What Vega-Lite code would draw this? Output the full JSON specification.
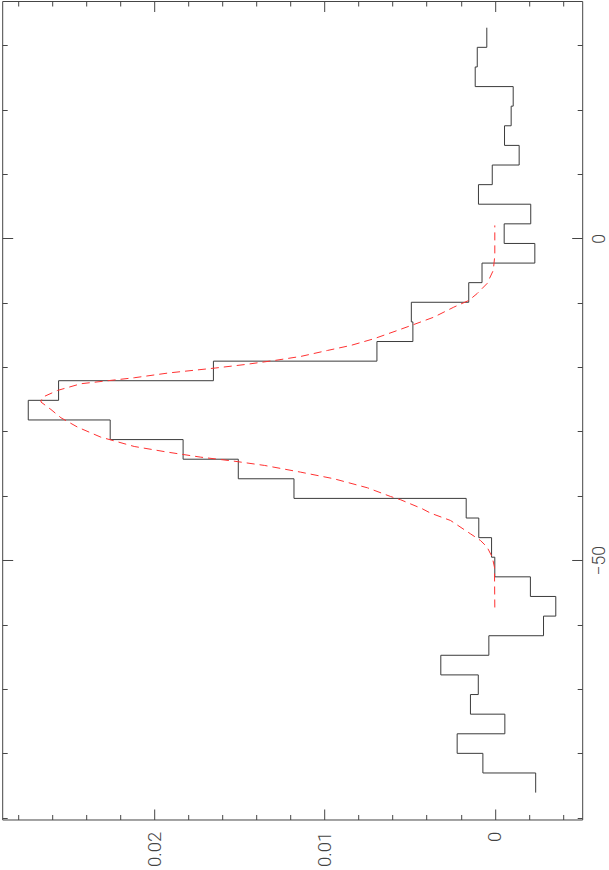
{
  "$schema": "https://vega.github.io/schema/vega-lite/v6.json",
  "width": 580,
  "height": 818.5,
  "padding": {"left": 1.2, "top": 0, "right": 0, "bottom": 0},
  "background": "white",
  "config": {
    "view": {"stroke": "#444", "strokeWidth": 1},
    "axis": {
      "domain": false,
      "grid": false,
      "title": null,
      "tickColor": "#444",
      "tickWidth": 1,
      "labelFont": "Roboto",
      "labelFontWeight": 300,
      "labelFontSize": 18.5,
      "labelColor": "#444"
    }
  },
  "datasets": {
    "hist": [
      {"k": 0, "hi": 32.75, "lo": 29.70, "f": 0.00047},
      {"k": 1, "hi": 29.70, "lo": 26.65, "f": 0.00103},
      {"k": 2, "hi": 26.65, "lo": 23.60, "f": 0.00115},
      {"k": 3, "hi": 23.60, "lo": 20.56, "f": -0.00108},
      {"k": 4, "hi": 20.56, "lo": 17.51, "f": -0.00096},
      {"k": 5, "hi": 17.51, "lo": 14.46, "f": -0.00057},
      {"k": 6, "hi": 14.46, "lo": 11.41, "f": -0.00143},
      {"k": 7, "hi": 11.41, "lo": 8.36, "f": 0.00015},
      {"k": 8, "hi": 8.36, "lo": 5.32, "f": 0.00096},
      {"k": 9, "hi": 5.32, "lo": 2.27, "f": -0.00211},
      {"k": 10, "hi": 2.27, "lo": -0.78, "f": -0.00055},
      {"k": 11, "hi": -0.78, "lo": -3.83, "f": -0.00235},
      {"k": 12, "hi": -3.83, "lo": -6.87, "f": 0.00075},
      {"k": 13, "hi": -6.87, "lo": -9.92, "f": 0.00153},
      {"k": 14, "hi": -9.92, "lo": -12.97, "f": 0.00490},
      {"k": 15, "hi": -12.97, "lo": -16.02, "f": 0.00481},
      {"k": 16, "hi": -16.02, "lo": -19.07, "f": 0.00692},
      {"k": 17, "hi": -19.07, "lo": -22.11, "f": 0.01652},
      {"k": 18, "hi": -22.11, "lo": -25.16, "f": 0.02561},
      {"k": 19, "hi": -25.16, "lo": -28.21, "f": 0.02739},
      {"k": 20, "hi": -28.21, "lo": -31.26, "f": 0.02258},
      {"k": 21, "hi": -31.26, "lo": -34.31, "f": 0.01830},
      {"k": 22, "hi": -34.31, "lo": -37.35, "f": 0.01506},
      {"k": 23, "hi": -37.35, "lo": -40.40, "f": 0.01179},
      {"k": 24, "hi": -40.40, "lo": -43.45, "f": 0.00168},
      {"k": 25, "hi": -43.45, "lo": -46.50, "f": 0.00094},
      {"k": 26, "hi": -46.50, "lo": -49.54, "f": 0.00019},
      {"k": 27, "hi": -49.54, "lo": -52.59, "f": 0.00000},
      {"k": 28, "hi": -52.59, "lo": -55.64, "f": -0.00209},
      {"k": 29, "hi": -55.64, "lo": -58.69, "f": -0.00358},
      {"k": 30, "hi": -58.69, "lo": -61.74, "f": -0.00286},
      {"k": 31, "hi": -61.74, "lo": -64.78, "f": 0.00035},
      {"k": 32, "hi": -64.78, "lo": -67.83, "f": 0.00317},
      {"k": 33, "hi": -67.83, "lo": -70.88, "f": 0.00097},
      {"k": 34, "hi": -70.88, "lo": -73.93, "f": 0.00143},
      {"k": 35, "hi": -73.93, "lo": -76.98, "f": -0.00059},
      {"k": 36, "hi": -76.98, "lo": -80.02, "f": 0.00221},
      {"k": 37, "hi": -80.02, "lo": -83.07, "f": 0.00070},
      {"k": 38, "hi": -83.07, "lo": -86.12, "f": -0.00240}
    ],
    "fit": [
      {"v": 2.02, "f": 0.0},
      {"v": -2.64, "f": 0.0},
      {"v": -4.97, "f": 0.00009},
      {"v": -6.99, "f": 0.00045},
      {"v": -8.55, "f": 0.00103},
      {"v": -9.64, "f": 0.00153},
      {"v": -10.68, "f": 0.00241},
      {"v": -12.23, "f": 0.00358},
      {"v": -13.37, "f": 0.00475},
      {"v": -14.30, "f": 0.00572},
      {"v": -15.59, "f": 0.00710},
      {"v": -16.63, "f": 0.00846},
      {"v": -17.41, "f": 0.00983},
      {"v": -18.34, "f": 0.01140},
      {"v": -18.96, "f": 0.01292},
      {"v": -19.58, "f": 0.01462},
      {"v": -20.13, "f": 0.01638},
      {"v": -20.90, "f": 0.01914},
      {"v": -21.65, "f": 0.02117},
      {"v": -22.58, "f": 0.02430},
      {"v": -23.62, "f": 0.02567},
      {"v": -24.67, "f": 0.02655},
      {"v": -25.41, "f": 0.02665},
      {"v": -26.58, "f": 0.02606},
      {"v": -27.87, "f": 0.02547},
      {"v": -29.33, "f": 0.02449},
      {"v": -30.88, "f": 0.02313},
      {"v": -32.33, "f": 0.02117},
      {"v": -33.21, "f": 0.01921},
      {"v": -33.99, "f": 0.01726},
      {"v": -34.61, "f": 0.01531},
      {"v": -35.28, "f": 0.01351},
      {"v": -36.32, "f": 0.01140},
      {"v": -37.35, "f": 0.00944},
      {"v": -38.75, "f": 0.00748},
      {"v": -40.10, "f": 0.00612},
      {"v": -40.61, "f": 0.00553},
      {"v": -42.01, "f": 0.00426},
      {"v": -42.69, "f": 0.00377},
      {"v": -43.83, "f": 0.00260},
      {"v": -45.90, "f": 0.00143},
      {"v": -46.94, "f": 0.00084},
      {"v": -47.98, "f": 0.00045},
      {"v": -49.53, "f": 0.00015},
      {"v": -51.09, "f": 0.00002},
      {"v": -57.35, "f": 0.0}
    ]
  },
  "resolve": {"axis": {"x": "independent", "y": "independent"}},
  "layer": [
    {
      "data": {"name": "hist"},
      "transform": [
        {"fold": ["lo", "hi"], "as": ["edge", "v"]},
        {"window": [{"op": "row_number", "as": "idx"}],
         "sort": [{"field": "k", "order": "descending"}, {"field": "v", "order": "ascending"}]}
      ],
      "mark": {"type": "line", "stroke": "#3a3a3a", "strokeWidth": 1},
      "encoding": {
        "x": {"field": "f", "type": "quantitative",
              "scale": {"domain": [-0.00513, 0.02892], "reverse": true, "nice": false, "zero": false},
              "axis": {"orient": "bottom", "values": [0, 0.01, 0.02], "format": "~g", "tickSize": -10.5,
                       "labelAngle": 270, "labelAlign": "right", "labelBaseline": "middle", "labelPadding": 22.2}},
        "y": {"field": "v", "type": "quantitative",
              "scale": {"domain": [-90.3, 36.9], "nice": false, "zero": false},
              "axis": {"orient": "right", "values": [-50, 0], "format": "d", "tickSize": -10.5,
                       "labelFontSize": 17.5,
                       "labelAngle": 270, "labelAlign": "center", "labelBaseline": "top", "labelPadding": 19.3}},
        "order": {"field": "idx", "type": "quantitative"}
      }
    },
    {
      "data": {"name": "fit"},
      "mark": {"type": "line", "stroke": "#ff3030", "strokeWidth": 1, "strokeDash": [8, 5]},
      "encoding": {
        "x": {"field": "f", "type": "quantitative",
              "scale": {"domain": [-0.00513, 0.02892], "reverse": true, "nice": false, "zero": false},
              "axis": {"orient": "top", "values": [0, 0.01, 0.02], "labels": false, "tickSize": -10.5}},
        "y": {"field": "v", "type": "quantitative",
              "scale": {"domain": [-90.3, 36.9], "nice": false, "zero": false},
              "axis": {"orient": "left", "values": [-50, 0], "labels": false, "tickSize": -10.5}},
        "order": {"field": "v", "type": "quantitative"}
      }
    },
    {
      "data": {"name": "fit"},
      "mark": {"type": "point", "opacity": 0},
      "encoding": {
        "x": {"field": "f", "type": "quantitative",
              "scale": {"domain": [-0.00513, 0.02892], "reverse": true, "nice": false, "zero": false},
              "axis": {"orient": "bottom", "values": [-0.004, -0.002, 0.002, 0.004, 0.006, 0.008, 0.012, 0.014, 0.016, 0.018, 0.022, 0.024, 0.026, 0.028], "labels": false, "tickSize": -5}},
        "y": {"field": "v", "type": "quantitative",
              "scale": {"domain": [-90.3, 36.9], "nice": false, "zero": false},
              "axis": {"orient": "right", "values": [-90, -80, -70, -60, -40, -30, -20, -10, 10, 20, 30], "labels": false, "tickSize": -5}}
      }
    },
    {
      "data": {"name": "fit"},
      "mark": {"type": "point", "opacity": 0},
      "encoding": {
        "x": {"field": "f", "type": "quantitative",
              "scale": {"domain": [-0.00513, 0.02892], "reverse": true, "nice": false, "zero": false},
              "axis": {"orient": "top", "values": [-0.004, -0.002, 0.002, 0.004, 0.006, 0.008, 0.012, 0.014, 0.016, 0.018, 0.022, 0.024, 0.026, 0.028], "labels": false, "tickSize": -5}},
        "y": {"field": "v", "type": "quantitative",
              "scale": {"domain": [-90.3, 36.9], "nice": false, "zero": false},
              "axis": {"orient": "left", "values": [-90, -80, -70, -60, -40, -30, -20, -10, 10, 20, 30], "labels": false, "tickSize": -5}}
      }
    }
  ]
}
